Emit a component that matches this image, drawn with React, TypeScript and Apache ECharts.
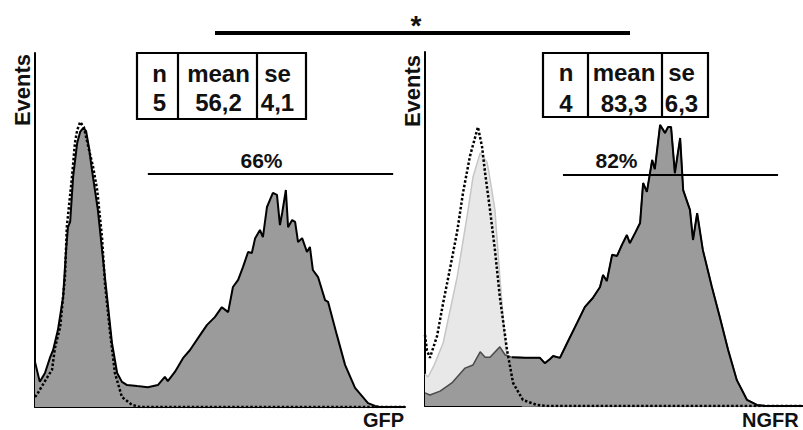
import React, { useEffect, useRef } from 'react';
import * as echarts from 'echarts';

// GFP panel: sample histogram (filled) and control (dotted)
const gfpSample: [number, number][] = [
  [0, 12.7], [1.3, 7.1], [2.7, 9.6], [4.1, 14.1], [4.9, 16.1], [6.2, 21.8], [7.6, 31.1], [8.4, 44.4],
  [8.9, 50.8], [9.5, 52.3], [10.3, 65.0], [11.4, 74.6], [12.2, 77.7], [13.0, 78.8], [13.8, 78.0],
  [14.6, 73.2], [15.4, 66.9], [17.0, 55.6], [18.9, 36.7], [20.8, 18.1], [22.2, 9.6], [23.5, 7.1],
  [24.9, 6.2], [27.6, 5.9], [30.5, 5.6], [33.2, 6.2], [35.1, 8.5], [35.9, 7.3], [37.8, 9.9],
  [40.0, 13.8], [41.9, 16.1], [44.6, 20.3], [46.5, 23.2], [48.6, 25.4], [50.5, 28.2], [52.2, 26.8],
  [53.5, 33.9], [54.9, 35.9], [56.2, 39.5], [57.6, 43.8], [58.6, 43.5], [59.5, 47.7], [60.8, 50.0],
  [61.6, 48.0], [62.7, 56.5], [63.5, 58.5], [64.3, 60.5], [65.4, 59.9], [66.2, 51.4], [66.8, 54.8],
  [67.8, 61.3], [68.4, 50.8], [69.5, 52.8], [70.3, 52.3], [71.1, 46.6], [72.2, 47.7], [73.5, 43.8],
  [74.3, 45.2], [75.1, 38.7], [76.5, 36.7], [78.4, 30.2], [79.2, 29.7], [81.6, 20.3], [83.8, 11.9],
  [86.5, 5.4], [90.0, 1.1], [91.9, 0.3], [93.2, 0], [100, 0]
];
const gfpControl: [number, number][] = [
  [0, 2.8], [0.8, 4.0], [3.2, 8.2], [4.6, 10.5], [5.4, 16.7], [6.8, 22.6], [8.1, 36.7], [8.6, 50.8],
  [10.0, 65.0], [10.8, 74.6], [11.4, 78.2], [12.2, 80.5], [13.2, 79.1], [14.3, 74.0], [15.7, 67.8],
  [16.8, 61.3], [18.1, 48.0], [18.9, 35.0], [20.3, 20.9], [21.6, 9.6], [23.5, 2.8], [26.2, 0.6],
  [28.4, 0], [100, 0]
];

// NGFR panel: light reference histogram, sample histogram, control (dotted)
const ngfrLight: [number, number][] = [
  [0, 9.0], [0.8, 8.2], [2.4, 11.5], [4.8, 17.8], [8.5, 36.4], [11.4, 55.4], [12.7, 64.7],
  [14.6, 71.5], [16.4, 68.9], [16.9, 66.1], [18.5, 55.4], [19.8, 36.4], [21.2, 17.8], [22.8, 6.0],
  [24.3, 0.8], [25.9, 0], [100, 0]
];
const ngfrSample: [number, number][] = [
  [0, 3.7], [1.3, 3.1], [4.0, 4.2], [7.1, 6.5], [10.6, 10.7], [12.7, 11.6], [14.6, 15.3],
  [15.9, 13.8], [17.2, 13.8], [19.8, 16.7], [21.2, 14.4], [23.0, 13.8], [26.5, 13.6], [30.4, 13.6],
  [31.7, 12.1], [33.1, 13.3], [33.9, 14.1], [35.7, 13.6], [37.6, 17.8], [40.2, 23.4], [42.3, 28.0],
  [44.4, 30.5], [46.3, 33.6], [47.1, 37.0], [48.1, 35.3], [49.5, 42.7], [50.8, 42.4], [52.1, 45.5],
  [53.4, 48.3], [54.2, 46.0], [55.6, 48.9], [56.9, 51.7], [57.7, 63.0], [58.7, 60.5], [60.1, 69.5],
  [60.8, 66.9], [62.2, 79.4], [63.0, 78.0], [63.5, 77.1], [64.3, 78.8], [65.1, 78.8], [66.1, 65.8],
  [67.5, 75.7], [68.3, 61.0], [70.1, 55.4], [70.9, 46.9], [72.0, 54.5], [73.5, 44.1], [75.9, 33.6],
  [78.0, 25.1], [80.2, 15.8], [82.5, 7.3], [85.2, 1.7], [87.8, 0.3], [90, 0], [100, 0]
];
const ngfrControl: [number, number][] = [
  [0, 20.1], [0.5, 15.8], [1.3, 13.6], [3.2, 19.8], [4.8, 29.1], [6.6, 38.7], [8.5, 49.2],
  [10.1, 60.5], [11.9, 70.6], [14.0, 78.8], [15.1, 73.2], [15.9, 65.8], [17.2, 55.4], [18.5, 44.1],
  [19.8, 30.8], [21.7, 15.8], [23.3, 6.5], [25.9, 1.7], [29.6, 0.3], [32, 0], [100, 0]
];

// Gates (x range, y level) and their percentages
const gfpGate = [30.5, 96.8];
const gfpGateY = 65.8;
const ngfrGate = [36.5, 93.4];
const ngfrGateY = 65.3;
const gatePercents = ['66%', '82%'];

// Statistics tables
const statHeaders = ['n', 'mean', 'se'];
const gfpStats = ['5', '56,2', '4,1'];
const ngfrStats = ['4', '83,3', '6,3'];
const axisNames = ['GFP', 'NGFR'];
const yName = 'Events';
const sigMark = '*';

const FONT = "'Liberation Sans', Arial, Helvetica, sans-serif";

function axis(gridIndex: number) {
  return {
    type: 'value', gridIndex, min: 0, max: 100,
    axisLine: { show: true, onZero: false, lineStyle: { color: '#000', width: 2 } },
    axisTick: { show: false }, axisLabel: { show: false }, splitLine: { show: false }
  };
}

function gateLine(range: number[], y: number) {
  return {
    silent: true, symbol: ['none', 'none'], label: { show: false },
    lineStyle: { color: '#000', width: 2, type: 'solid' },
    emphasis: { disabled: true },
    data: [[{ coord: [range[0], y] }, { coord: [range[1], y] }]]
  };
}

function txt(text: string, x: number, y: number, size: number, align = 'center', rotation = 0) {
  return {
    type: 'text', x, y, rotation, z: 100,
    style: { text, fill: '#111', fontSize: size, fontWeight: 'bold', fontFamily: FONT, align, verticalAlign: 'middle' }
  };
}

function table(x0: number, y0: number, w: number, h: number, cols: number[], centers: number[], rows: number[], values: string[]) {
  const els: any[] = [
    { type: 'rect', z: 100, shape: { x: x0, y: y0, width: w, height: h }, style: { fill: 'none', stroke: '#000', lineWidth: 2.2 } }
  ];
  cols.forEach((c) => els.push({ type: 'line', z: 100, shape: { x1: c, y1: y0, x2: c, y2: y0 + h }, style: { stroke: '#000', lineWidth: 2.2 } }));
  statHeaders.forEach((t, i) => els.push(txt(t, centers[i], rows[0], 24)));
  values.forEach((t, i) => els.push(txt(t, centers[i], rows[1], 24)));
  return els;
}

export default function App() {
  const ref = useRef<HTMLDivElement>(null);
  useEffect(() => {
    const chart = echarts.init(ref.current!, null, { renderer: 'svg' });
    const option: any = {
      animation: false,
      backgroundColor: '#fff',
      grid: [
        { left: 35, top: 53, width: 370, height: 354 },
        { left: 425, top: 52, width: 378, height: 354 }
      ],
      xAxis: [axis(0), axis(1)],
      yAxis: [axis(0), axis(1)],
      series: [
        {
          type: 'line', xAxisIndex: 0, yAxisIndex: 0, data: gfpSample, symbol: 'none', z: 2,
          lineStyle: { color: '#000', width: 2 }, areaStyle: { color: '#9b9b9b', opacity: 1 }
        },
        {
          type: 'line', xAxisIndex: 0, yAxisIndex: 0, data: gfpControl, symbol: 'none', z: 3,
          lineStyle: { color: '#000', width: 2.5, type: [2.5, 2] },
          markLine: gateLine(gfpGate, gfpGateY)
        },
        {
          type: 'line', xAxisIndex: 1, yAxisIndex: 1, data: ngfrLight, symbol: 'none', z: 1,
          lineStyle: { color: '#c6c6c6', width: 1.5 }, areaStyle: { color: '#e8e8e8', opacity: 1 }
        },
        {
          type: 'line', xAxisIndex: 1, yAxisIndex: 1, data: ngfrSample, symbol: 'none', z: 2,
          lineStyle: { color: '#4a4a4a', width: 1.5 }, areaStyle: { color: '#9b9b9b', opacity: 1 }
        },
        {
          type: 'line', xAxisIndex: 1, yAxisIndex: 1, data: ngfrSample.filter((p) => p[0] >= 23), symbol: 'none', z: 3,
          lineStyle: { color: '#000', width: 2 }
        },
        {
          type: 'line', xAxisIndex: 1, yAxisIndex: 1, data: ngfrControl, symbol: 'none', z: 4,
          lineStyle: { color: '#000', width: 2.5, type: [2.5, 2] },
          markLine: gateLine(ngfrGate, ngfrGateY)
        }
      ],
      graphic: [
        { type: 'line', z: 100, shape: { x1: 215, y1: 33, x2: 630, y2: 33 }, style: { stroke: '#000', lineWidth: 4 } },
        txt(sigMark, 416, 25, 28),
        ...table(137, 53, 169, 66, [178, 257], [159.5, 218.5, 277.5], [73, 102], gfpStats),
        ...table(543, 53, 165, 64, [588, 662], [566, 624, 681.5], [72, 103], ngfrStats),
        txt(gatePercents[0], 261.5, 160, 21),
        txt(gatePercents[1], 616.5, 160, 21),
        txt(axisNames[0], 404, 420, 20, 'right'),
        txt(axisNames[1], 742, 420, 20, 'left'),
        txt(yName, 22, 90, 22, 'center', Math.PI / 2),
        txt(yName, 412, 91, 22, 'center', Math.PI / 2)
      ]
    };
    chart.setOption(option);
    return () => chart.dispose();
  }, []);
  return <div ref={ref} style={{ position: 'absolute', left: 0, top: 0, width: 803, height: 430, background: '#fff' }} />;
}
